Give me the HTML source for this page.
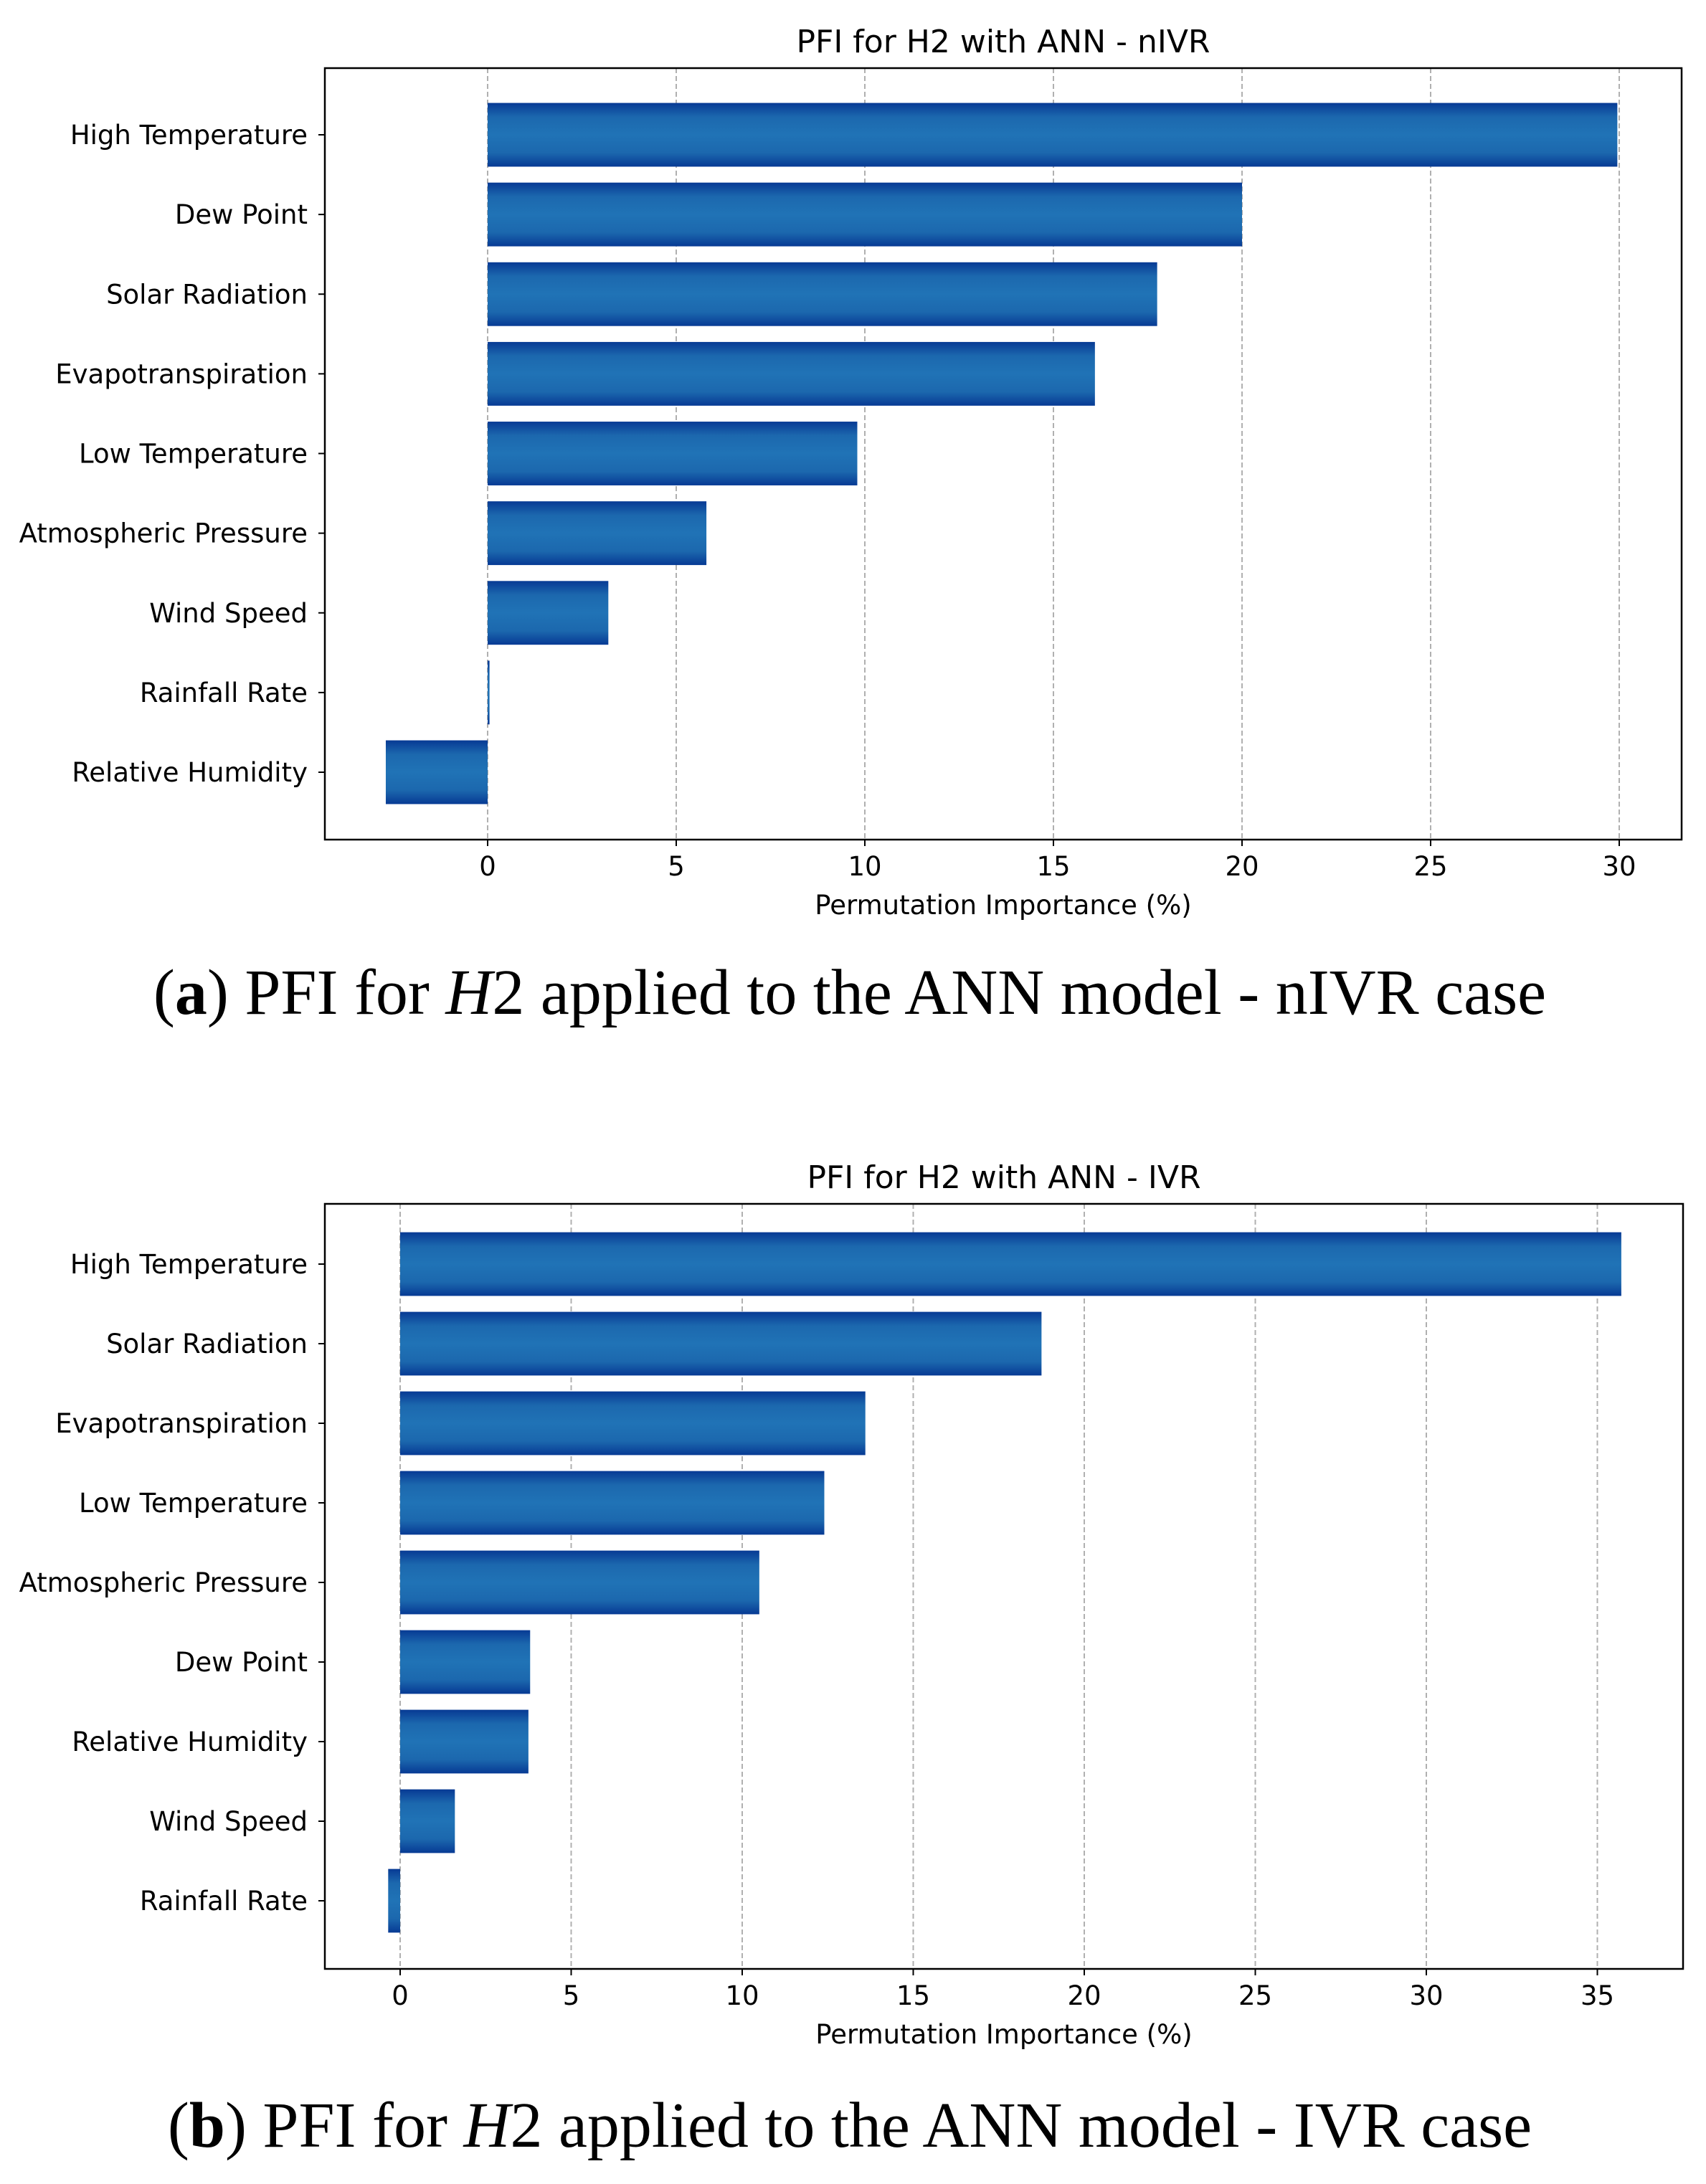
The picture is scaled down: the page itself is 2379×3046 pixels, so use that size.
<!DOCTYPE html>
<html><head><meta charset="utf-8"><style>
html,body{margin:0;padding:0;background:#fff;}
svg{display:block;}
</style></head><body>
<svg id="fig" width="2379" height="3046" viewBox="0 0 2379 3046" xmlns="http://www.w3.org/2000/svg" font-family="DejaVu Sans, Liberation Sans, sans-serif">
<defs>
<linearGradient id="barGrad" x1="0" y1="0" x2="0" y2="1">
<stop offset="0" stop-color="#073a94"/>
<stop offset="0.22" stop-color="#1c68ae"/>
<stop offset="0.5" stop-color="#2073b6"/>
<stop offset="0.78" stop-color="#1c68ae"/>
<stop offset="1" stop-color="#073a94"/>
</linearGradient>
</defs>
<g id="chartA"></g>
<g id="chartB"></g>
<text x="1185" y="1414" text-anchor="middle" font-family="Liberation Serif, serif" font-size="90">(<tspan font-weight="bold">a</tspan>) PFI for <tspan font-style="italic">H</tspan>2 applied to the ANN model - nIVR case</text>
<text x="1185" y="2994" text-anchor="middle" font-family="Liberation Serif, serif" font-size="90">(<tspan font-weight="bold">b</tspan>) PFI for <tspan font-style="italic">H</tspan>2 applied to the ANN model - IVR case</text>
</svg>
<script>
const catsA = ["High Temperature","Dew Point","Solar Radiation","Evapotranspiration","Low Temperature","Atmospheric Pressure","Wind Speed","Rainfall Rate","Relative Humidity"];
const valsA = [29.95, 20.0, 17.75, 16.1, 9.8, 5.8, 3.2, 0.05, -2.7];
const ticksA = [0, 5, 10, 15, 20, 25, 30];
const catsB = ["High Temperature","Solar Radiation","Evapotranspiration","Low Temperature","Atmospheric Pressure","Dew Point","Relative Humidity","Wind Speed","Rainfall Rate"];
const valsB = [35.7, 18.75, 13.6, 12.4, 10.5, 3.8, 3.75, 1.6, -0.35];
const ticksB = [0, 5, 10, 15, 20, 25, 30, 35];

const NS = "http://www.w3.org/2000/svg";
function mk(parent, tag, attrs, text){
  const e = document.createElementNS(NS, tag);
  for (const k in attrs) e.setAttribute(k, attrs[k]);
  if (text !== undefined) e.textContent = text;
  parent.appendChild(e);
  return e;
}
function draw(g, cats, vals, ticks, cfg){
  const L=cfg.left, R=cfg.right, T=cfg.top, B=cfg.bottom;
  const x = v => cfg.x0 + v * cfg.ppu;
  const n = cats.length;
  const step = (cfg.lastC - cfg.firstC) / (n - 1);
  const y = i => cfg.firstC + i * step;
  const bh = step * 0.8;
  ticks.forEach(t => {
    const gl = mk(g, "line", {x1:x(t), x2:x(t), y1:T, y2:B, stroke:"#b0b0b0", "stroke-width":2, "stroke-dasharray":"7,4"});
    
    
  });
  vals.forEach((v, i) => {
    const x0 = x(Math.min(0, v)), w = Math.max(Math.abs(x(v) - x(0)), 2);
    const r = mk(g, "rect", {x:x0, y:y(i)-bh/2, width:w, height:bh, fill:"url(#barGrad)"});
    
    
  });
  const fr = mk(g, "rect", {x:L, y:T, width:R-L, height:B-T, fill:"none", stroke:"#000", "stroke-width":2.5});
  
  
  cats.forEach((c, i) => {
    mk(g, "line", {x1:L-9, x2:L, y1:y(i), y2:y(i), stroke:"#000", "stroke-width":2});
    const t = mk(g, "text", {x:L-24, y:y(i)+13, "text-anchor":"end", "font-size":37, fill:"#000"}, c);
    
    
  });
  ticks.forEach(tv => {
    mk(g, "line", {x1:x(tv), x2:x(tv), y1:B, y2:B+9, stroke:"#000", "stroke-width":2});
    const t = mk(g, "text", {x:x(tv), y:B+50, "text-anchor":"middle", "font-size":37, fill:"#000"}, String(tv));
    
    
  });
  const xl = mk(g, "text", {x:(L+R)/2, y:B+104, "text-anchor":"middle", "font-size":37, fill:"#000"}, "Permutation Importance (%)");
  
  
  const tt = mk(g, "text", {x:(L+R)/2, y:T-22, "text-anchor":"middle", "font-size":44, fill:"#000"}, cfg.title);
  
  
}
draw(document.getElementById("chartA"), catsA, valsA, ticksA,
  {left:453, right:2345, top:95, bottom:1171, x0:680, ppu:52.6, firstC:188, lastC:1077, title:"PFI for H2 with ANN - nIVR"});
draw(document.getElementById("chartB"), catsB, valsB, ticksB,
  {left:453, right:2347, top:1679, bottom:2746, x0:558, ppu:47.7, firstC:1763, lastC:2651, title:"PFI for H2 with ANN - IVR"});
</script>
</body></html>
